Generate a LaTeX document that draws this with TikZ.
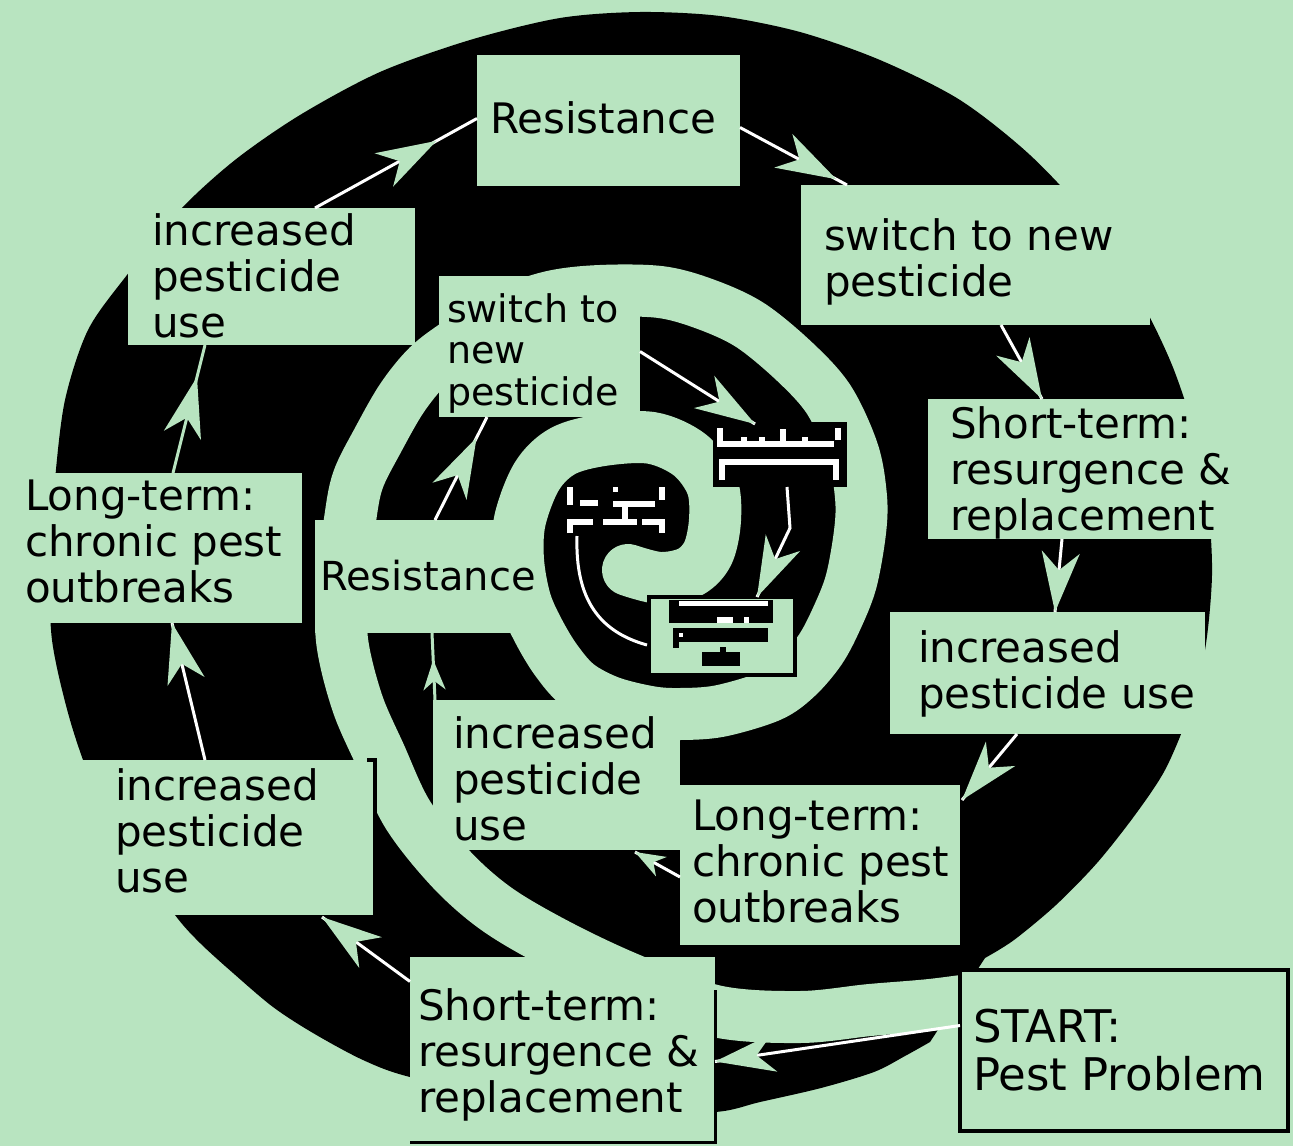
\documentclass[tikz,border=0pt]{standalone}
\usepackage{fontspec}
\setmainfont{DejaVu Sans}
\usetikzlibrary{arrows.meta,calc,decorations.markings}
\definecolor{bg}{RGB}{184,228,192}
\newcommand{\ml}[1]{\begin{tabular}[t]{@{}l@{}}#1\end{tabular}}
\begin{document}
\begin{tikzpicture}[x=1pt,y=-1pt,
  gbox/.style={rectangle, fill=bg, draw=none, inner sep=0pt, outer sep=0pt, anchor=north west},
  bbox/.style={rectangle, fill=black, draw=none, inner sep=0pt, outer sep=0pt, anchor=north west},
  lbl/.style={inner sep=0pt, outer sep=0pt, anchor=base west, font=\fontsize{42}{46}\selectfont},
  big/.style={draw=white, line width=3pt, postaction={decorate},
    decoration={markings, mark=at position #1 with {\arrow{Stealth[length=60pt,width=38pt,inset=18pt,color=bg]}}}},
  big/.default=1,
  small/.style={draw=white, line width=3pt, postaction={decorate},
    decoration={markings, mark=at position #1 with {\arrow{Stealth[length=30pt,width=22pt,inset=9pt,color=bg]}}}},
  small/.default=1,
  glyph/.style={draw=white, line width=6pt},
]
\useasboundingbox (0,0) rectangle (1293,1146);
\fill[bg] (0,0) rectangle (1293,1146);

% black spiral body
\fill[black] plot[smooth, tension=0.5] coordinates {
 (930,1042) (905,1056) (874,1072) (821,1088) (760,1102) (715,1112) (620,1112) (520,1100)
 (410,1077) (363,1060) (313,1033) (273,1007) (233,973) (200,943) (175,915) (130,850)
 (95,790) (70,720) (52,640) (50,560) (55,480) (65,400) (88,330) (127,275) (180,210)
 (235,160) (300,115) (380,72) (470,40) (560,18) (640,12) (720,16) (800,32) (880,60)
 (960,100) (1030,155) (1090,220) (1138,295) (1172,365) (1195,435) (1208,505) (1212,575)
 (1205,650) (1188,715) (1165,770) (1135,815) (1097,863) (1056,905) (1014,940) (985,958)
} -- cycle;

% green spiral gap
\draw[bg, line width=52pt, line cap=round, line join=round] plot[smooth, tension=0.55] coordinates {
 (1040,992) (985,998) (930,1005) (870,1010) (800,1017) (715,1011) (630,979) (560,946)
 (498,910) (452,870) (408,815) (380,755) (357,702) (342,640) (343,580) (350,520)
 (358,480) (378,440) (402,398) (428,366) (458,343) (500,315) (550,297) (600,291)
 (660,292) (705,304) (750,325) (795,362) (829,400) (853,452) (861,497) (860,532)
 (851,582) (836,620) (820,650) (797,677) (770,696) (720,711) (680,714) (650,712)
 (610,702) (578,685) (556,660) (538,630) (525,600) (518,560) (520,520) (537,476)
 (563,451) (603,440) (652,438) (690,455) (712,485) (715,520) (708,553) (690,572)
 (660,578) (628,570)
};

% boxes
\node[gbox, minimum width=263pt, minimum height=131pt] (resT) at (477,55) {};
\node[gbox, minimum width=349pt, minimum height=140pt] (swT) at (801,185) {};
\node[gbox, minimum width=320pt, minimum height=140pt] (stR) at (928,399) {};
\node[gbox, minimum width=315pt, minimum height=122pt] (incR) at (890,612) {};
\node[gbox, minimum width=280pt, minimum height=160pt] (ltM) at (680,785) {};
\node[gbox, minimum width=247pt, minimum height=150pt] (incM) at (433,700) {};
\node[gbox, minimum width=225pt, minimum height=113pt] (resM) at (315,520) {};
\node[gbox, minimum width=201pt, minimum height=141pt] (swM) at (439,276) {};
\node[gbox, minimum width=282pt, minimum height=150pt] (ltL) at (20,473) {};
\node[gbox, minimum width=287pt, minimum height=137pt] (incUL) at (128,208) {};
\node[gbox, minimum width=315pt, minimum height=155pt] (incLL) at (60,760) {};
\node[gbox, minimum width=305pt, minimum height=185pt] (stB) at (410,957) {};
\node[gbox, draw=black, line width=4.5pt, minimum width=328pt, minimum height=161pt] (start) at (960,970) {};
\node[bbox, minimum width=134pt, minimum height=65pt] (tinyTR) at (713,422) {};
\node[gbox, draw=black, line width=4pt, minimum width=146pt, minimum height=78pt] (tinyB) at (649,597) {};
\node[bbox, minimum width=103pt, minimum height=52pt] (tinyL) at (565,484) {};

% partial borders
\draw[black, line width=3pt] ($(stB.north east)+(0,33)$) -- (stB.south east) -- (stB.south west);
\draw[black, line width=4pt] ($(incLL.north east)+(-8,0)$) -- (incLL.north east) -- (incLL.south east);

% tiny box glyph shapes
\draw[glyph] (720,428) -- (720,444) -- (834,444);
\draw[glyph] (838,428) -- (838,440);
\draw[glyph] (744,437) -- (744,444);
\draw[glyph] (762,437) -- (762,444);
\draw[glyph] (783,429) -- (783,444);
\draw[glyph] (805,437) -- (805,444);
\draw[glyph] (722,480) -- (722,462) -- (836,462) -- (836,480);

\fill[black] (669,600) rectangle (773,623);
\draw[white, line width=5pt] (679,603) -- (768,603);
\fill[white] (717,617) rectangle (733,623);
\fill[white] (744,617) rectangle (749,623);
\fill[black] (673,628) rectangle (768,642);
\fill[black] (673,628) rectangle (679,648);
\fill[white] (679,633) rectangle (683,637);
\fill[black] (702,652) rectangle (740,666);
\fill[black] (720,647) rectangle (726,652);

\draw[glyph] (570,487) -- (570,505);
\draw[glyph] (580,503) -- (598,503);
\draw[glyph] (613,504) -- (655,504);
\draw[glyph] (625,504) -- (625,520);
\fill[white] (613,487) rectangle (618,492);
\draw[glyph] (662,487) -- (662,500);
\draw[glyph] (570,533) -- (570,522) -- (593,522);
\draw[glyph] (603,522) -- (637,522);
\draw[glyph] (642,522) -- (662,522) -- (662,533);

% connectors
\draw[big] ($(start.west)+(0,-25)$) -- ($(stB.east)+(0,12)$);
\draw[big] ($(stB.west)+(0,-68)$) -- ($(incLL.south east)+(-53,2)$);
\draw[big] ($(incLL.north west)+(145,0)$) -- ($(ltL.south west)+(152,0)$);
\draw[big=0.75, draw=bg] ($(ltL.north west)+(153,0)$) -- ($(incUL.south west)+(77,0)$);
\draw[big=0.75] ($(incUL.north west)+(187,0)$) -- ($(resT.west)+(0,-2)$);
\draw[big=0.9] ($(resT.east)+(0,7)$) -- ($(swT.north west)+(46,0)$);
\draw[big] ($(swT.south west)+(200,0)$) -- ($(stR.north west)+(114,0)$);
\draw[big] ($(stR.south west)+(134,0)$) -- ($(incR.north west)+(165,0)$);
\draw[big] ($(incR.south west)+(127,0)$) -- ($(ltM.north east)+(2,15)$);
\draw[small] ($(ltM.west)+(0,12)$) -- ($(incM.south east)+(-45,2)$);
\draw[small=0.6, draw=bg] ($(incM.north west)+(2,0)$) -- ($(resM.south west)+(117,0)$);
\draw[big=0.8] ($(resM.north west)+(120,0)$) -- ($(swM.south west)+(48,0)$);
\draw[big] ($(swM.east)+(0,5)$) -- ($(tinyTR.north west)+(42,2)$);
\draw[big] ($(tinyTR.south west)+(74,0)$) -- (790,528) -- ($(tinyB.north west)+(108,0)$);
\draw[white, line width=3pt] ($(tinyB.west)+(-2,9)$) .. controls (600,632) and (575,600) .. ($(tinyL.south west)+(12,0)$);

% labels
\node[lbl] (t1) at (490,133) {Resistance};
\node[lbl] (t2) at (824,250) {\ml{switch to new\\pesticide}};
\node[lbl] (t3) at (950,438) {\ml{Short-term:\\resurgence \&\\replacement}};
\node[lbl] (t4) at (918,662) {\ml{increased\\pesticide use}};
\node[lbl] (t5) at (692,830) {\ml{Long-term:\\chronic pest\\outbreaks}};
\node[lbl] (t6) at (453,748) {\ml{increased\\pesticide\\use}};
\node[lbl, font=\fontsize{40}{44}\selectfont] (t7) at (320,590) {Resistance};
\node[lbl, font=\fontsize{38}{41.5}\selectfont] (t8) at (447,322) {\ml{switch to\\new\\pesticide}};
\node[lbl] (t9) at (25,510) {\ml{Long-term:\\chronic pest\\outbreaks}};
\node[lbl] (t10) at (152,245) {\ml{increased\\pesticide\\use}};
\node[lbl] (t11) at (115,800) {\ml{increased\\pesticide\\use}};
\node[lbl] (t12) at (418,1020) {\ml{Short-term:\\resurgence \&\\replacement}};
\node[lbl, font=\fontsize{45}{46}\selectfont] (t13) at (973,1042) {\ml{START:\\Pest Problem}};
\end{tikzpicture}
\end{document}
